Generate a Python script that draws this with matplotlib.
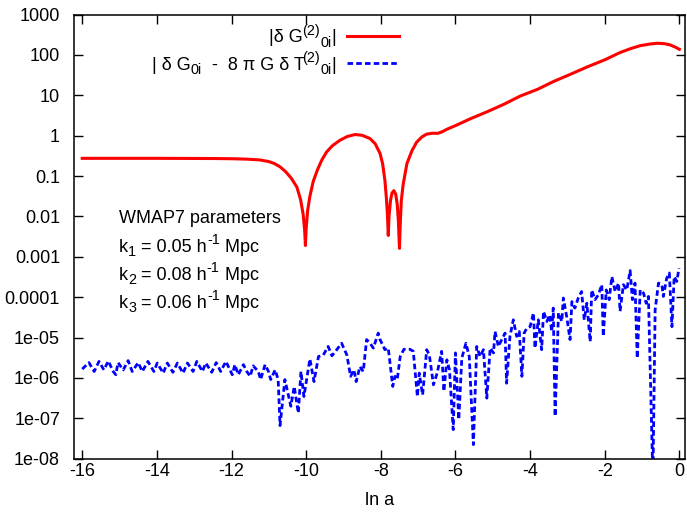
import numpy as np
import matplotlib
matplotlib.use("Agg")
import matplotlib.pyplot as plt
from matplotlib.ticker import FixedLocator, FixedFormatter, NullLocator
from matplotlib.transforms import IdentityTransform

plt.rcParams['font.family'] = ['Liberation Sans', 'DejaVu Sans']
plt.rcParams['axes.unicode_minus'] = False

# |dG^(2)_0i|  (x = ln a, y = log10 of value)
red_x = [-16.0, -14.0, -12.5, -12.0, -11.6, -11.24, -11.0, -10.85, -10.70, -10.55,
         -10.40, -10.25, -10.15, -10.08, -10.04, -10.02, -10.00, -9.96, -9.90, -9.81,
         -9.70, -9.58, -9.45, -9.30, -9.09, -8.90, -8.69, -8.50, -8.29, -8.15,
         -8.02, -7.95, -7.89, -7.85, -7.82, -7.80, -7.78, -7.74, -7.70, -7.65,
         -7.60, -7.56, -7.53, -7.50, -7.48, -7.45, -7.40, -7.30, -7.17, -7.04,
         -6.90, -6.77, -6.62, -6.47, -6.35, -6.23, -6.0, -5.6, -5.16, -4.7,
         -4.27, -3.8, -3.38, -2.9, -2.48, -2.0, -1.59, -1.3, -1.05, -0.8,
         -0.61, -0.4, -0.25, -0.1, 0.0]
red_log = [-0.56, -0.56, -0.565, -0.57, -0.58, -0.60, -0.64, -0.69, -0.77, -0.89,
           -1.05, -1.27, -1.58, -1.95, -2.35, -2.72, -2.3, -1.85, -1.5, -1.13,
           -0.85, -0.6, -0.40, -0.25, -0.11, -0.02, 0.03, 0.01, -0.07, -0.20,
           -0.44, -0.70, -1.11, -1.55, -2.0, -2.47, -2.0, -1.6, -1.42, -1.36,
           -1.45, -1.7, -2.1, -2.79, -2.2, -1.6, -1.2, -0.69, -0.38, -0.16,
           -0.03, 0.04, 0.06, 0.06, 0.10, 0.16, 0.25, 0.42, 0.59, 0.78,
           0.98, 1.15, 1.34, 1.53, 1.70, 1.88, 2.06, 2.16, 2.23, 2.27,
           2.29, 2.28, 2.25, 2.19, 2.14]

# |dG_0i - 8 pi G dT^(2)_0i|  (x = ln a, y = log10 of value)
blue_x = [-16.00, -15.82, -15.68, -15.55, -15.42, -15.30, -15.17, -15.10, -15.04, -14.90,
          -14.77, -14.66, -14.50, -14.39, -14.24, -14.08, -13.99, -13.83, -13.72, -13.57,
          -13.45, -13.30, -13.18, -13.03, -12.93, -12.78, -12.69, -12.53, -12.41, -12.29,
          -12.15, -11.98, -11.91, -11.82, -11.68, -11.59, -11.50, -11.42, -11.28, -11.22,
          -11.10, -11.01, -10.95, -10.83, -10.75, -10.70, -10.57, -10.41, -10.32, -10.21,
          -10.14, -10.06, -9.90, -9.79, -9.67, -9.54, -9.41, -9.31, -9.18, -9.05,
          -8.91, -8.81, -8.72, -8.66, -8.56, -8.47, -8.38, -8.29, -8.20, -8.07,
          -8.02, -7.89, -7.80, -7.68, -7.62, -7.56, -7.48, -7.38, -7.22, -7.13,
          -7.02, -6.97, -6.88, -6.77, -6.70, -6.59, -6.49, -6.37, -6.31, -6.23,
          -6.16, -6.06, -6.00, -5.91, -5.83, -5.72, -5.63, -5.52, -5.43, -5.34,
          -5.25, -5.16, -5.07, -4.98, -4.94, -4.85, -4.76, -4.67, -4.63, -4.54,
          -4.45, -4.36, -4.29, -4.22, -4.16, -4.09, -4.00, -3.91, -3.87, -3.78,
          -3.69, -3.64, -3.55, -3.48, -3.42, -3.38, -3.33, -3.24, -3.15, -3.11,
          -3.02, -2.93, -2.88, -2.80, -2.71, -2.62, -2.55, -2.48, -2.39, -2.35,
          -2.26, -2.17, -2.08, -2.04, -1.96, -1.88, -1.81, -1.72, -1.63, -1.59,
          -1.50, -1.41, -1.32, -1.26, -1.19, -1.13, -1.05, -0.96, -0.89, -0.83,
          -0.71, -0.65, -0.56, -0.47, -0.43, -0.34, -0.27, -0.20, -0.14, -0.07,
          -0.01]
blue_log = [-5.78, -5.62, -5.84, -5.59, -5.80, -5.58, -5.84, -5.92, -5.62, -5.80,
            -5.57, -5.84, -5.62, -5.84, -5.59, -5.84, -5.63, -5.88, -5.63, -5.86,
            -5.63, -5.88, -5.63, -5.84, -5.59, -5.84, -5.63, -5.86, -5.62, -5.84,
            -5.59, -5.92, -5.67, -5.92, -5.67, -5.84, -5.96, -5.70, -5.84, -6.04,
            -5.67, -5.84, -6.04, -5.80, -6.04, -7.18, -6.04, -6.70, -6.21, -6.87,
            -5.84, -6.46, -5.53, -6.09, -5.47, -5.43, -5.22, -5.45, -5.30, -5.14,
            -5.43, -5.96, -5.80, -6.09, -5.72, -5.84, -5.05, -5.14, -5.26, -4.89,
            -5.05, -5.30, -5.26, -6.21, -5.96, -6.04, -5.47, -5.29, -5.29, -5.34,
            -6.46, -5.88, -6.42, -5.30, -5.43, -6.17, -5.88, -5.34, -6.33, -5.55,
            -5.80, -7.28, -5.38, -7.03, -5.51, -5.14, -5.47, -7.65, -5.22, -5.47,
            -5.30, -6.50, -5.26, -5.38, -4.85, -5.22, -5.05, -4.89, -6.13, -4.97,
            -4.56, -4.97, -4.85, -5.96, -4.89, -4.77, -4.73, -4.39, -5.26, -4.56,
            -5.30, -4.35, -4.60, -4.44, -4.85, -4.27, -6.95, -4.39, -4.60, -4.02,
            -4.48, -5.05, -4.11, -4.27, -4.02, -3.86, -4.56, -4.15, -5.10, -3.82,
            -4.06, -3.94, -3.69, -4.97, -3.82, -4.06, -3.49, -3.86, -3.65, -4.35,
            -3.69, -3.82, -3.34, -4.06, -3.65, -5.51, -3.82, -3.90, -4.15, -3.98,
            -8.5, -4.31, -3.65, -3.69, -3.98, -3.53, -3.40, -4.73, -3.49, -3.61,
            -3.28]

x_ticks = [-16, -14, -12, -10, -8, -6, -4, -2, 0]
y_ticks = [1e3, 1e2, 1e1, 1, 1e-1, 1e-2, 1e-3, 1e-4, 1e-5, 1e-6, 1e-7, 1e-8]
y_labels = ['1000', '100', '10', '1', '0.1', '0.01', '0.001', '0.0001',
            '1e-05', '1e-06', '1e-07', '1e-08']

# gnuplot enhanced-text pieces: (text, 'n' normal / 'sup' / 'sub')
label_red = [('|δ G', 'n'), ('(2)', 'sup'), ('0i', 'sub'), ('|', 'n')]
label_blue = [('| δ G', 'n'), ('0i', 'sub'), ('  -  8 π G δ T', 'n'), ('(2)', 'sup'),
              ('0i', 'sub'), ('|', 'n')]
notes = [[('WMAP7 parameters', 'n')],
         [('k', 'n'), ('1', 'sub'), (' = 0.05 h', 'n'), ('-1', 'sup'), (' Mpc', 'n')],
         [('k', 'n'), ('2', 'sub'), (' = 0.08 h', 'n'), ('-1', 'sup'), (' Mpc', 'n')],
         [('k', 'n'), ('3', 'sub'), (' = 0.06 h', 'n'), ('-1', 'sup'), (' Mpc', 'n')]]

W, H = 687, 512
fig = plt.figure(figsize=(W/100, H/100), dpi=100)
ax = fig.add_axes([74/W, (H-458.7)/H, 611/W, 444.1/H])

ax.plot(red_x, 10**np.array(red_log), color='#ff0000', lw=2.2)
ax.plot(blue_x, 10**np.array(blue_log), color='#0000ff', lw=2.0,
        dashes=(2.0, 1.15))

ax.set_yscale('log')
ax.set_xlim(-16.22, 0.15)
ax.set_ylim(1e-8, 1e3)
ax.set_xticks(x_ticks)
ax.set_xticklabels([str(t) for t in x_ticks])
ax.yaxis.set_major_locator(FixedLocator(y_ticks))
ax.yaxis.set_major_formatter(FixedFormatter(y_labels))
ax.yaxis.set_minor_locator(NullLocator())
ax.tick_params(which='both', direction='in', top=True, right=True,
               length=6.5, width=1.0, labelsize=13)
ax.tick_params(axis='y', pad=10)
ax.tick_params(axis='x', pad=3)
for s in ax.spines.values():
    s.set_linewidth(1.1)
ax.set_xlabel('ln a', fontsize=13, labelpad=9)

renderer = fig.canvas.get_renderer()
FS = 13


def piece_width(s, fs):
    a = fig.text(0, 0, 'a' + s + 'a', fontsize=fs)
    b = fig.text(0, 0, 'aa', fontsize=fs)
    w = a.get_window_extent(renderer).width - b.get_window_extent(renderer).width
    a.remove()
    b.remove()
    return w


def rich_text(x_px, y_px, pieces, ha='left', color='black'):
    # x_px, y_px: pixels from the top-left corner, y_px = baseline
    sizes = [FS if k == 'n' else FS * 0.8 for _, k in pieces]
    widths = [piece_width(s, fs) for (s, _), fs in zip(pieces, sizes)]
    x = x_px - sum(widths) if ha == 'right' else x_px
    for (s, k), fs, w in zip(pieces, sizes, widths):
        dy = {'n': 0, 'sup': 7.5, 'sub': -4.5}[k]
        fig.text(x, H - y_px + dy, s, fontsize=fs, color=color,
                 transform=IdentityTransform(), ha='left', va='baseline')
        x += w


# key: right aligned text then a line sample
rich_text(336, 42.5, label_red, ha='right')
rich_text(336, 69.8, label_blue, ha='right')
ax.plot([0.4463, 0.5324], [0.9518, 0.9518], transform=ax.transAxes,
        color='#ff0000', lw=2.2)
ax.plot([0.4463, 0.5324], [0.8903, 0.8903], transform=ax.transAxes,
        color='#0000ff', lw=2.0, dashes=(2.0, 1.15))

for t, yy in zip(notes, [223, 251.5, 280, 308]):
    rich_text(119, yy, t)

fig.savefig('out.png', dpi=100)
